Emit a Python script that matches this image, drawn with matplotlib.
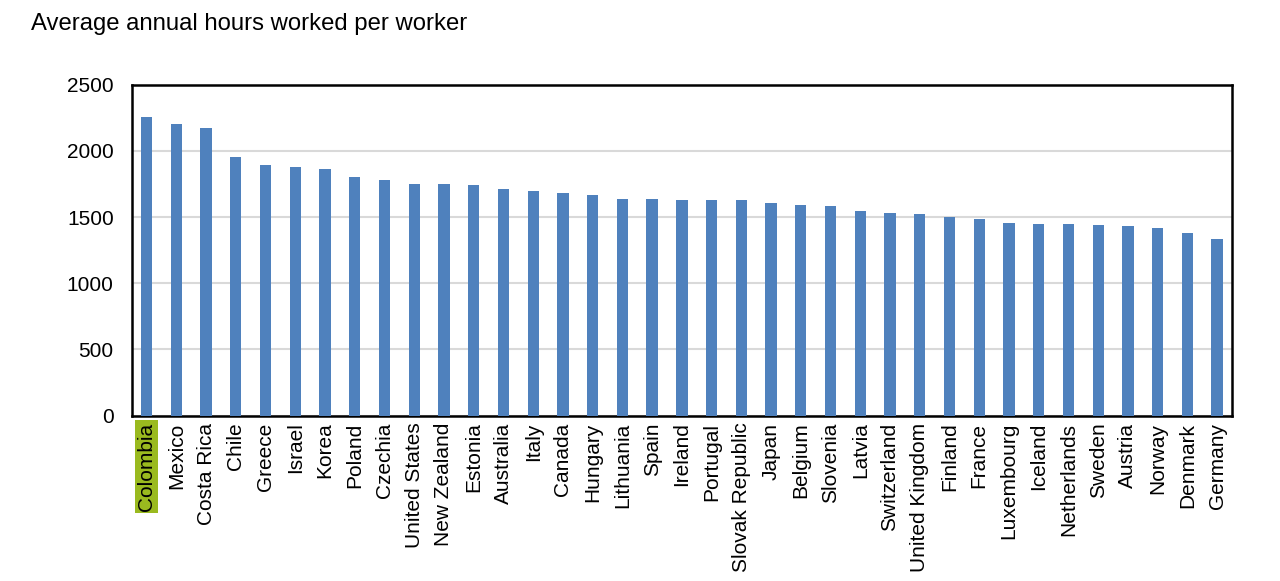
import matplotlib.pyplot as plt

plt.rcParams['font.family'] = ['Liberation Sans', 'DejaVu Sans']

# countries, sorted by hours
paises = ["Colombia", "Mexico", "Costa Rica", "Chile", "Greece", "Israel", "Korea",
          "Poland", "Czechia", "United States", "New Zealand", "Estonia", "Australia",
          "Italy", "Canada", "Hungary", "Lithuania", "Spain", "Ireland", "Portugal",
          "Slovak Republic", "Japan", "Belgium", "Slovenia", "Latvia", "Switzerland",
          "United Kingdom", "Finland", "France", "Luxembourg", "Iceland", "Netherlands",
          "Sweden", "Austria", "Norway", "Denmark", "Germany"]
horas = [2254, 2206, 2174, 1952, 1897, 1880, 1865, 1805, 1777, 1752, 1752, 1741, 1714,
         1701, 1686, 1670, 1640, 1638, 1633, 1631, 1626, 1610, 1593, 1586, 1545, 1530,
         1525, 1498, 1486, 1452, 1450, 1449, 1440, 1436, 1417, 1380, 1334]
yticks = [0, 500, 1000, 1500, 2000, 2500]

fig = plt.figure(figsize=(12.8, 5.81), dpi=100)
ax = fig.add_axes([0.1029, 0.2847, 0.8596, 0.5693])

x = range(len(paises))
ax.bar(x, horas, width=0.38, color='#4F81BD', zorder=3)

ax.set_xlim(-0.5, len(paises) - 0.5)
ax.set_ylim(0, 2500)
ax.set_yticks(yticks)
ax.grid(axis='y', color='#D9D9D9', linewidth=1.5, zorder=0)
ax.set_xticks(list(x))
ax.set_xticklabels(paises, rotation=90, va='top', ha='center', fontsize=15)
ax.tick_params(axis='both', length=0)
ax.tick_params(axis='y', labelsize=15, pad=13)
ax.tick_params(axis='x', pad=5)

for s in ax.spines.values():
    s.set_color('black')
    s.set_linewidth(1.8)

# highlight Colombia
lab = ax.get_xticklabels()[0]
lab.set_bbox(dict(facecolor='#9ABA1F', edgecolor='none', pad=1.5))

fig.text(0.024, 0.958, "Average annual hours worked per worker", fontsize=17.2,
         va='center', ha='left')

fig.savefig('out.png', dpi=100)
